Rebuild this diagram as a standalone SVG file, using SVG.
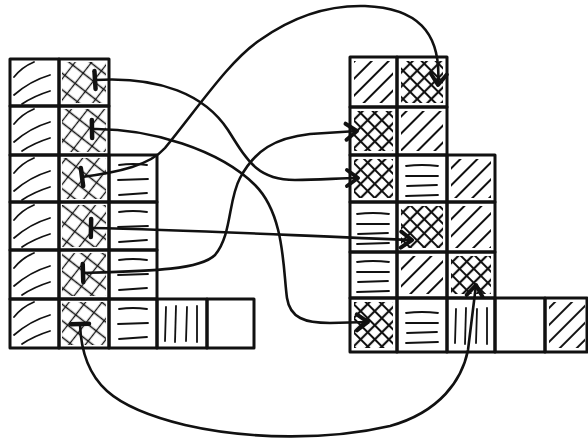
<svg xmlns="http://www.w3.org/2000/svg" width="588" height="446" viewBox="0 0 588 446">
<style>
.c{fill:none;stroke:#111;stroke-width:3;stroke-linejoin:round}
.s{fill:none;stroke:#111;stroke-width:1.8;stroke-linecap:round}
.e{fill:none;stroke:#111;stroke-width:2.6;stroke-linecap:round;marker-start:url(#bar);marker-end:url(#arr)}
.xd{fill:url(#pX);stroke:none}
.xt{fill:url(#pXt);stroke:none}
.dd{fill:url(#pD);stroke:none}
</style>
<defs>
<pattern id="pD" width="12" height="12" patternUnits="userSpaceOnUse" patternTransform="rotate(45)"><line x1="6" y1="0" x2="6" y2="12" stroke="#111" stroke-width="2"/></pattern>
<pattern id="pX" width="10" height="10" patternUnits="userSpaceOnUse" patternTransform="rotate(45)"><path d="M5 0V10M0 5H10" stroke="#111" stroke-width="2.2" fill="none"/></pattern>
<pattern id="pXt" width="13" height="13" patternUnits="userSpaceOnUse" patternTransform="rotate(38)"><path d="M6.5 0V13M0 6.5H13" stroke="#111" stroke-width="1.3" fill="none"/></pattern>
<g id="sd" class="s"><path d="M4 18 Q12 8 24 3"/><path d="M4 36 Q20 22 40 16"/><path d="M12 45 Q24 37 40 32"/></g>
<g id="h3" class="s"><path d="M10 10 Q24 8 38 10"/><path d="M9 25 L39 24"/><path d="M10 40 Q24 39 38 38"/></g>
<g id="h4" class="s"><path d="M8 11 Q24 9 40 11"/><path d="M8 21 L40 21"/><path d="M9 31 L39 30"/><path d="M8 41 L40 40"/></g>
<g id="vt" class="s"><path d="M9 8 L8 42"/><path d="M19 7 L18 43"/><path d="M30 8 L29 42"/><path d="M40 7 L40 43"/></g>
<marker id="arr" viewBox="-14 -12 18 24" markerWidth="18" markerHeight="24" refX="0" refY="0" orient="auto" markerUnits="userSpaceOnUse"><path d="M-11,-8 L0,0 L-11,8" fill="none" stroke="#111" stroke-width="4" stroke-linecap="round" stroke-linejoin="round"/></marker>
<marker id="bar" viewBox="-5 -12 10 24" markerWidth="10" markerHeight="24" refX="0" refY="0" orient="auto" markerUnits="userSpaceOnUse"><path d="M0,-9 L0,9" stroke="#111" stroke-width="4.5" stroke-linecap="round"/></marker>
</defs>
<rect width="588" height="446" fill="#fff"/>
<g id="left-grid">
<g id="L-r0c0"><use href="#sd" x="10" y="59"/><rect class="c" x="10" y="59" width="49" height="47"/></g>
<g id="L-r1c0"><use href="#sd" x="10" y="106"/><rect class="c" x="10" y="106" width="49" height="49"/></g>
<g id="L-r2c0"><use href="#sd" x="10" y="155"/><rect class="c" x="10" y="155" width="49" height="47"/></g>
<g id="L-r3c0"><use href="#sd" x="10" y="202"/><rect class="c" x="10" y="202" width="49" height="48"/></g>
<g id="L-r4c0"><use href="#sd" x="10" y="250"/><rect class="c" x="10" y="250" width="49" height="49"/></g>
<g id="L-r5c0"><use href="#sd" x="10" y="299"/><rect class="c" x="10" y="299" width="49" height="49"/></g>
<g id="L-r0c1"><rect class="xt" x="62" y="62" width="44" height="41"/><rect class="c" x="59" y="59" width="50" height="47"/></g>
<g id="L-r1c1"><rect class="xt" x="62" y="109" width="44" height="43"/><rect class="c" x="59" y="106" width="50" height="49"/></g>
<g id="L-r2c1"><rect class="xt" x="62" y="158" width="44" height="41"/><rect class="c" x="59" y="155" width="50" height="47"/></g>
<g id="L-r3c1"><rect class="xt" x="62" y="205" width="44" height="42"/><rect class="c" x="59" y="202" width="50" height="48"/></g>
<g id="L-r4c1"><rect class="xt" x="62" y="253" width="44" height="43"/><rect class="c" x="59" y="250" width="50" height="49"/></g>
<g id="L-r5c1"><rect class="xt" x="62" y="302" width="44" height="43"/><rect class="c" x="59" y="299" width="50" height="49"/></g>
<g id="L-r2c2"><use href="#h3" x="109" y="155"/><rect class="c" x="109" y="155" width="48" height="47"/></g>
<g id="L-r3c2"><use href="#h3" x="109" y="202"/><rect class="c" x="109" y="202" width="48" height="48"/></g>
<g id="L-r4c2"><use href="#h3" x="109" y="250"/><rect class="c" x="109" y="250" width="48" height="49"/></g>
<g id="L-r5c2"><use href="#h3" x="109" y="299"/><rect class="c" x="109" y="299" width="48" height="49"/></g>
<g id="L-r5c3"><use href="#vt" x="157" y="299"/><rect class="c" x="157" y="299" width="50" height="49"/></g>
<g id="L-r5c4"><rect class="c" x="207" y="299" width="47" height="49"/></g>
</g>
<g id="right-grid">
<g id="R-r0c0"><rect class="dd" x="354" y="61" width="39" height="42"/><rect class="c" x="350" y="57" width="47" height="50"/></g>
<g id="R-r0c1"><rect class="xd" x="401" y="61" width="42" height="42"/><rect class="c" x="397" y="57" width="50" height="50"/></g>
<g id="R-r1c0"><rect class="xd" x="354" y="111" width="39" height="40"/><rect class="c" x="350" y="107" width="47" height="48"/></g>
<g id="R-r1c1"><rect class="dd" x="401" y="111" width="42" height="40"/><rect class="c" x="397" y="107" width="50" height="48"/></g>
<g id="R-r2c0"><rect class="xd" x="354" y="159" width="39" height="39"/><rect class="c" x="350" y="155" width="47" height="47"/></g>
<g id="R-r2c1"><use href="#h4" x="398" y="155"/><rect class="c" x="397" y="155" width="50" height="47"/></g>
<g id="R-r2c2"><rect class="dd" x="451" y="159" width="40" height="39"/><rect class="c" x="447" y="155" width="48" height="47"/></g>
<g id="R-r3c0"><use href="#h4" x="349" y="203"/><rect class="c" x="350" y="202" width="47" height="50"/></g>
<g id="R-r3c1"><rect class="xd" x="401" y="206" width="42" height="42"/><rect class="c" x="397" y="202" width="50" height="50"/></g>
<g id="R-r3c2"><rect class="dd" x="451" y="206" width="40" height="42"/><rect class="c" x="447" y="202" width="48" height="50"/></g>
<g id="R-r4c0"><use href="#h4" x="349" y="251"/><rect class="c" x="350" y="252" width="47" height="46"/></g>
<g id="R-r4c1"><rect class="dd" x="401" y="256" width="42" height="38"/><rect class="c" x="397" y="252" width="50" height="46"/></g>
<g id="R-r4c2"><rect class="xd" x="451" y="256" width="40" height="38"/><rect class="c" x="447" y="252" width="48" height="46"/></g>
<g id="R-r5c0"><rect class="xd" x="354" y="302" width="39" height="46"/><rect class="c" x="350" y="298" width="47" height="54"/></g>
<g id="R-r5c1"><use href="#h4" x="398" y="302"/><rect class="c" x="397" y="298" width="50" height="54"/></g>
<g id="R-r5c2"><use href="#vt" x="447" y="301"/><rect class="c" x="447" y="298" width="48" height="54"/></g>
<g id="R-r5c3"><rect class="c" x="495" y="298" width="50" height="54"/></g>
<g id="R-r5c4"><rect class="dd" x="549" y="302" width="36" height="46"/><rect class="c" x="545" y="298" width="42" height="54"/></g>
</g>
<g id="connectors">
<path class="e" d="M95 80 C160 76 205 95 228 130 C248 162 258 180 295 180 C320 180 340 178 358 178"/>
<path class="e" d="M92 129 C150 128 220 150 255 185 C285 215 283 270 287 298 C290 318 305 323 330 323 L368 322"/>
<path class="e" d="M82 177 C120 172 150 165 165 148 C200 105 230 60 260 40 C295 15 330 5 365 6 C415 8 442 30 438 85"/>
<path class="e" d="M91 228 C200 230 300 236 412 240"/>
<path class="e" d="M83 273 C150 271 200 270 215 255 C232 235 228 200 240 178 C255 150 275 138 310 134 L357 131"/>
<path class="e" d="M80 324 C82 385 115 408 185 425 C250 440 330 440 390 426 C440 412 462 380 468 350 L476 285"/>
</g>
</svg>
